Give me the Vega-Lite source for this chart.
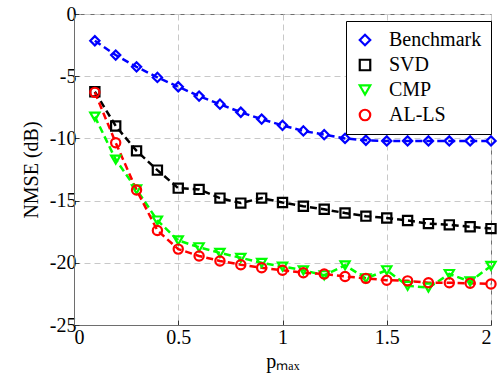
{
  "$schema": "https://vega.github.io/schema/vega-lite/v6.json",
  "width": 417,
  "height": 311,
  "autosize": {"type": "none"},
  "padding": {"left": 74, "top": 14, "right": 8, "bottom": 59},
  "background": "white",
  "config": {
    "font": "Liberation Serif",
    "view": {"stroke": "#6e6e6e", "strokeWidth": 1},
    "axis": {
      "labelFont": "Liberation Serif",
      "labelFontSize": 20,
      "labelColor": "black",
      "titleFont": "Liberation Serif",
      "titleFontSize": 20,
      "titleFontWeight": "normal",
      "titleColor": "black",
      "domainColor": "#6e6e6e",
      "tickColor": "#333333",
      "tickSize": -5,
      "gridColor": "#c8c8c8",
      "gridDash": [6, 4],
      "gridWidth": 1
    },
    "legend": {
      "orient": "none", "legendX": 272, "legendY": 7,
      "strokeColor": "black", "fillColor": "white", "padding": 9,
      "labelFont": "Liberation Serif", "labelFontSize": 20, "labelColor": "black",
      "symbolSize": 110, "symbolStrokeWidth": 2.2, "rowPadding": 5, "labelOffset": 14
    }
  },
  "data": {
    "values": [
      {"s": "Benchmark", "x": 0.1, "y": -2.15}, {"s": "Benchmark", "x": 0.2, "y": -3.3}, {"s": "Benchmark", "x": 0.3, "y": -4.25}, {"s": "Benchmark", "x": 0.4, "y": -5.1}, {"s": "Benchmark", "x": 0.5, "y": -5.85}, {"s": "Benchmark", "x": 0.6, "y": -6.6}, {"s": "Benchmark", "x": 0.7, "y": -7.25}, {"s": "Benchmark", "x": 0.8, "y": -7.9}, {"s": "Benchmark", "x": 0.9, "y": -8.45}, {"s": "Benchmark", "x": 1.0, "y": -8.95}, {"s": "Benchmark", "x": 1.1, "y": -9.4}, {"s": "Benchmark", "x": 1.2, "y": -9.7}, {"s": "Benchmark", "x": 1.3, "y": -10.0}, {"s": "Benchmark", "x": 1.4, "y": -10.15}, {"s": "Benchmark", "x": 1.5, "y": -10.2}, {"s": "Benchmark", "x": 1.6, "y": -10.2}, {"s": "Benchmark", "x": 1.7, "y": -10.2}, {"s": "Benchmark", "x": 1.8, "y": -10.2}, {"s": "Benchmark", "x": 1.9, "y": -10.2}, {"s": "Benchmark", "x": 2.0, "y": -10.2},
      {"s": "SVD", "x": 0.1, "y": -6.25}, {"s": "SVD", "x": 0.2, "y": -9.0}, {"s": "SVD", "x": 0.3, "y": -11.0}, {"s": "SVD", "x": 0.4, "y": -12.55}, {"s": "SVD", "x": 0.5, "y": -14.0}, {"s": "SVD", "x": 0.6, "y": -14.1}, {"s": "SVD", "x": 0.7, "y": -14.8}, {"s": "SVD", "x": 0.8, "y": -15.2}, {"s": "SVD", "x": 0.9, "y": -14.8}, {"s": "SVD", "x": 1.0, "y": -15.15}, {"s": "SVD", "x": 1.1, "y": -15.45}, {"s": "SVD", "x": 1.2, "y": -15.7}, {"s": "SVD", "x": 1.3, "y": -16.0}, {"s": "SVD", "x": 1.4, "y": -16.25}, {"s": "SVD", "x": 1.5, "y": -16.4}, {"s": "SVD", "x": 1.6, "y": -16.6}, {"s": "SVD", "x": 1.7, "y": -16.85}, {"s": "SVD", "x": 1.8, "y": -16.95}, {"s": "SVD", "x": 1.9, "y": -17.1}, {"s": "SVD", "x": 2.0, "y": -17.25},
      {"s": "CMP", "x": 0.1, "y": -8.25}, {"s": "CMP", "x": 0.2, "y": -11.7}, {"s": "CMP", "x": 0.3, "y": -14.1}, {"s": "CMP", "x": 0.4, "y": -16.6}, {"s": "CMP", "x": 0.5, "y": -18.2}, {"s": "CMP", "x": 0.6, "y": -18.75}, {"s": "CMP", "x": 0.7, "y": -19.2}, {"s": "CMP", "x": 0.8, "y": -19.6}, {"s": "CMP", "x": 0.9, "y": -20.0}, {"s": "CMP", "x": 1.0, "y": -20.3}, {"s": "CMP", "x": 1.1, "y": -20.6}, {"s": "CMP", "x": 1.2, "y": -21.0}, {"s": "CMP", "x": 1.3, "y": -20.2}, {"s": "CMP", "x": 1.4, "y": -21.25}, {"s": "CMP", "x": 1.5, "y": -20.6}, {"s": "CMP", "x": 1.6, "y": -21.85}, {"s": "CMP", "x": 1.7, "y": -22.0}, {"s": "CMP", "x": 1.8, "y": -20.9}, {"s": "CMP", "x": 1.9, "y": -21.5}, {"s": "CMP", "x": 2.0, "y": -20.25},
      {"s": "AL-LS", "x": 0.1, "y": -6.3}, {"s": "AL-LS", "x": 0.2, "y": -10.35}, {"s": "AL-LS", "x": 0.3, "y": -14.15}, {"s": "AL-LS", "x": 0.4, "y": -17.4}, {"s": "AL-LS", "x": 0.5, "y": -18.9}, {"s": "AL-LS", "x": 0.6, "y": -19.45}, {"s": "AL-LS", "x": 0.7, "y": -19.85}, {"s": "AL-LS", "x": 0.8, "y": -20.15}, {"s": "AL-LS", "x": 0.9, "y": -20.4}, {"s": "AL-LS", "x": 1.0, "y": -20.6}, {"s": "AL-LS", "x": 1.1, "y": -20.8}, {"s": "AL-LS", "x": 1.2, "y": -20.9}, {"s": "AL-LS", "x": 1.3, "y": -21.1}, {"s": "AL-LS", "x": 1.4, "y": -21.25}, {"s": "AL-LS", "x": 1.5, "y": -21.4}, {"s": "AL-LS", "x": 1.6, "y": -21.45}, {"s": "AL-LS", "x": 1.7, "y": -21.6}, {"s": "AL-LS", "x": 1.8, "y": -21.6}, {"s": "AL-LS", "x": 1.9, "y": -21.65}, {"s": "AL-LS", "x": 2.0, "y": -21.7}
    ]
  },
  "encoding": {
    "x": {"field": "x", "type": "quantitative", "scale": {"domain": [0, 2], "nice": false},
          "axis": {"values": [0, 0.5, 1, 1.5, 2], "title": "pₘₐₓ", "labelPadding": 7, "titlePadding": 4, "labelExpr": "datum.value + ''"}},
    "y": {"field": "y", "type": "quantitative", "scale": {"domain": [-25, 0], "nice": false},
          "axis": {"values": [-25, -20, -15, -10, -5, 0], "title": "NMSE (dB)", "labelPadding": 3, "titlePadding": 8, "labelExpr": "datum.value + ''"}},
    "color": {"field": "s", "type": "nominal",
              "scale": {"domain": ["Benchmark", "SVD", "CMP", "AL-LS"], "range": ["#0000ff", "#000000", "#00ff00", "#ff0000"]},
              "legend": {"title": null}}
  },
  "layer": [
    {
      "mark": {"type": "line", "strokeWidth": 2.5, "strokeDash": [7, 4]},
      "encoding": {
        "order": {"field": "x", "type": "quantitative"}
      }
    },
    {
      "mark": {"type": "point", "filled": false, "strokeWidth": 2.2, "size": 85, "opacity": 1},
      "encoding": {
        "shape": {"field": "s", "type": "nominal",
                  "scale": {"domain": ["Benchmark", "SVD", "CMP", "AL-LS"], "range": ["diamond", "square", "triangle-down", "circle"]},
                  "legend": {"title": null}}
      }
    }
  ]
}
